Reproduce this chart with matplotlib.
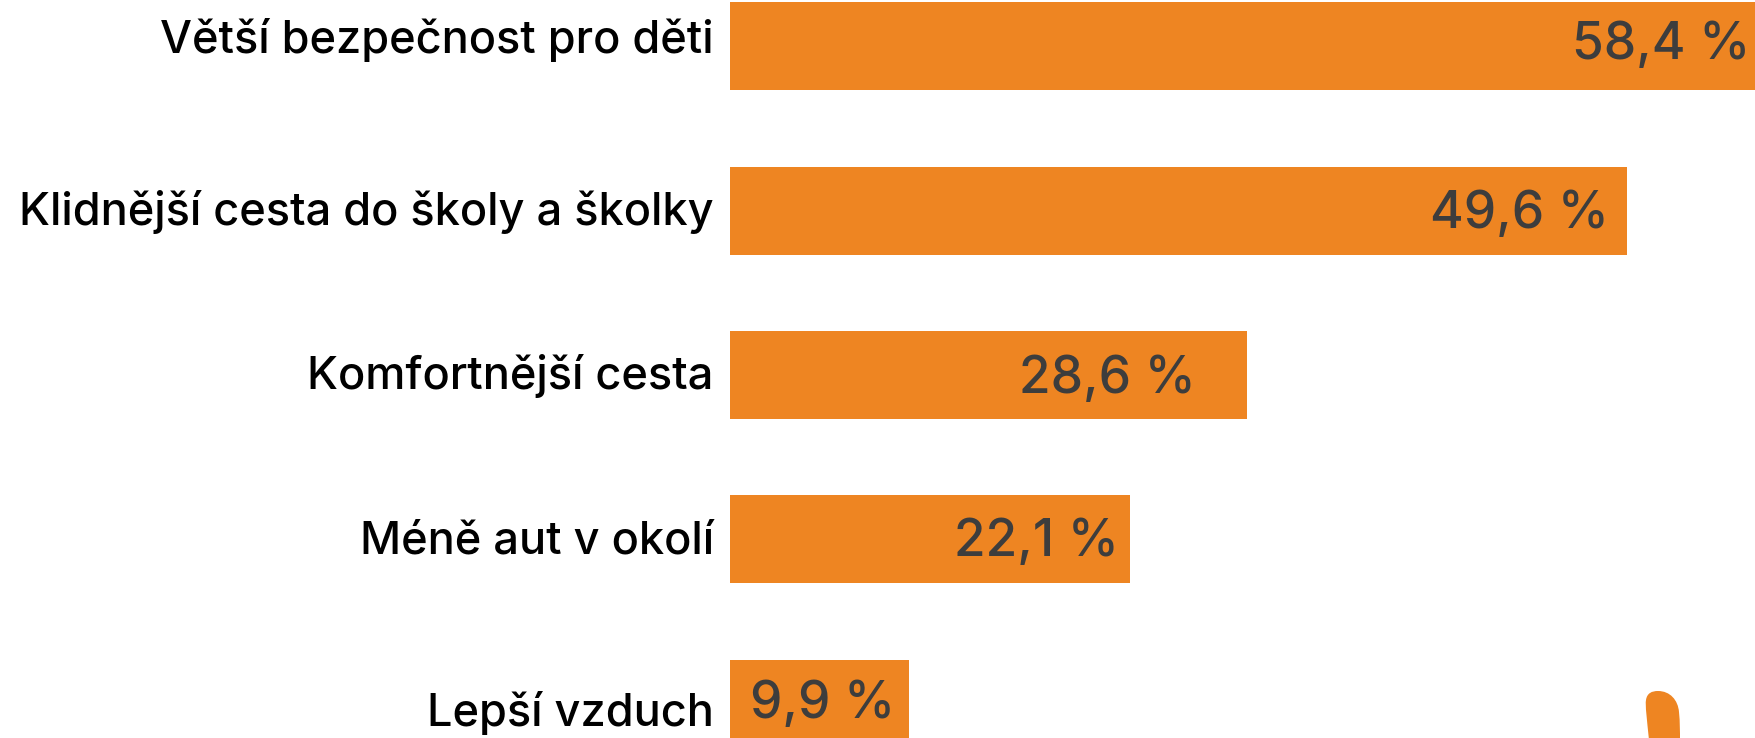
import matplotlib
matplotlib.use("Agg")
import matplotlib.pyplot as plt
from matplotlib.patches import PathPatch
from matplotlib.path import Path

categories = ["Větší bezpečnost pro děti", "Klidnější cesta do školy a školky",
              "Komfortnější cesta", "Méně aut v okolí", "Lepší vzduch"]
values = [58.4, 49.6, 28.6, 22.1, 9.9]
value_labels = ["58,4 %", "49,6 %", "28,6 %", "22,1 %", "9,9 %"]

# hand placed in the original, offsets in px
value_inset = [36, 19, 52, 11, 14]
value_dy = [-1, 4, 4, 3, 1]
label_dy = [-6, 1, 1, 2, 9]

orange = "#EE8522"
W, H = 1755, 738

plt.rcParams["font.family"] = ["Inter", "DejaVu Sans"]

fig = plt.figure(figsize=(W / 100, H / 100), dpi=100)
ax = fig.add_axes([0, 0, 1, 1])

ax.barh(range(len(values)), values, height=0.535, color=orange)
ax.set_xlim(-40.33, 56.65)
ax.set_ylim(4.207, -0.28)
ax.axis("off")

for i in range(len(values)):
    ax.annotate(categories[i], (0, i), xytext=(-16 * 0.72, -label_dy[i] * 0.72),
                textcoords="offset points", ha="right", va="center",
                fontsize=32.5, fontweight=500, color="black")
    ax.annotate(value_labels[i], (values[i], i), xytext=(-value_inset[i] * 0.72, -value_dy[i] * 0.72),
                textcoords="offset points", ha="right", va="center",
                fontsize=37, fontweight=500, color="#3d3d3d", annotation_clip=False)

# bit of the decoration in the bottom right corner
pts = [(1649, 740), (1647, 720), (1645, 705), (1646, 700), (1647, 693), (1652, 691), (1658, 691),
       (1670, 691), (1678, 700), (1679, 712), (1680, 722), (1680, 732), (1680, 740), (1649, 740)]
codes = [Path.MOVETO] + [Path.CURVE4] * 12 + [Path.LINETO]
blob = Path([(x, H - y) for x, y in pts], codes)
fig.add_artist(PathPatch(blob, facecolor=orange, edgecolor="none", transform=None))

fig.savefig("out.png", dpi=100)
